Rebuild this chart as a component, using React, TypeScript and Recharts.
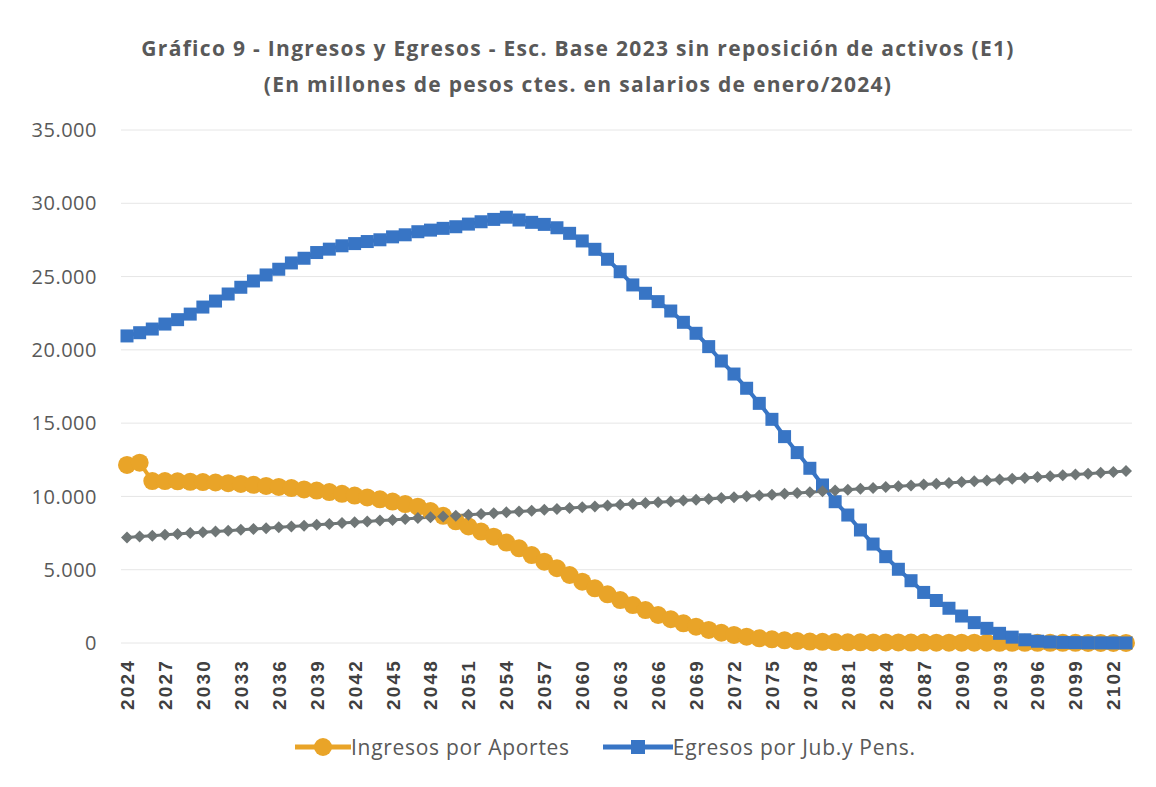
import { LineChart, Line, XAxis, YAxis, CartesianGrid } from "recharts";

const years = [
  2024, 2025, 2026, 2027, 2028, 2029, 2030, 2031, 2032, 2033,
  2034, 2035, 2036, 2037, 2038, 2039, 2040, 2041, 2042, 2043,
  2044, 2045, 2046, 2047, 2048, 2049, 2050, 2051, 2052, 2053,
  2054, 2055, 2056, 2057, 2058, 2059, 2060, 2061, 2062, 2063,
  2064, 2065, 2066, 2067, 2068, 2069, 2070, 2071, 2072, 2073,
  2074, 2075, 2076, 2077, 2078, 2079, 2080, 2081, 2082, 2083,
  2084, 2085, 2086, 2087, 2088, 2089, 2090, 2091, 2092, 2093,
  2094, 2095, 2096, 2097, 2098, 2099, 2100, 2101, 2102, 2103,
];

// Ingresos por Aportes
const ingresos = [
  12150, 12300, 11050, 11050, 11030, 11000, 10980, 10950, 10900, 10850,
  10790, 10720, 10650, 10570, 10480, 10400, 10300, 10180, 10060, 9930,
  9800, 9650, 9480, 9300, 9000, 8680, 8300, 7950, 7600, 7250,
  6850, 6460, 6000, 5550, 5100, 4640, 4180, 3730, 3320, 2930,
  2590, 2250, 1910, 1620, 1340, 1110, 890, 700, 550, 430,
  320, 250, 180, 130, 100, 80, 60, 50, 45, 40,
  40, 35, 30, 30, 25, 25, 20, 20, 20, 15,
  15, 15, 10, 10, 10, 10, 5, 5, 5, 5,
];

// Egresos por Jub.y Pens.
const egresos = [
  20950, 21170, 21420, 21760, 22060, 22440, 22920, 23330, 23810, 24270,
  24700, 25110, 25500, 25930, 26250, 26640, 26870, 27100, 27250, 27390,
  27510, 27710, 27850, 28060, 28170, 28290, 28400, 28580, 28740, 28900,
  29050, 28860, 28700, 28560, 28330, 27950, 27430, 26860, 26180, 25330,
  24430, 23860, 23290, 22650, 21880, 21130, 20220, 19240, 18350, 17380,
  16350, 15260, 14080, 12990, 11920, 10780, 9640, 8730, 7710, 6750,
  5890, 5030, 4250, 3450, 2900, 2370, 1840, 1390, 1000, 660,
  400, 220, 120, 70, 40, 25, 15, 10, 5, 3,
];

// third series (not in legend)
const tercera = [
  7200, 7260, 7320, 7380, 7440, 7500, 7550, 7610, 7660, 7720,
  7780, 7830, 7890, 7950, 8000, 8060, 8120, 8180, 8230, 8290,
  8350, 8400, 8460, 8520, 8580, 8630, 8690, 8750, 8800, 8860,
  8920, 8980, 9030, 9090, 9150, 9210, 9260, 9320, 9380, 9430,
  9490, 9550, 9610, 9660, 9720, 9780, 9830, 9890, 9950, 10010,
  10060, 10120, 10180, 10230, 10290, 10350, 10410, 10460, 10520, 10580,
  10640, 10690, 10750, 10810, 10860, 10920, 10980, 11040, 11090, 11150,
  11210, 11260, 11320, 11380, 11440, 11490, 11550, 11610, 11670, 11730,
];

const yTicks = [0, 5000, 10000, 15000, 20000, 25000, 30000, 35000];

const ORANGE = "#E9A428";
const BLUE = "#3875C5";
const GRAY = "#6F7676";
const TEXT = "#595959";

const data = years.map((year, i) => ({
  year,
  ingresos: ingresos[i],
  egresos: egresos[i],
  tercera: tercera[i],
}));

const fmt = (v: number) => String(v).replace(/\B(?=(\d{3})+(?!\d))/g, ".");

const CircleDot = (p: any) => (
  <circle key={`o-${p.index}`} cx={p.cx} cy={p.cy} r={9} fill={ORANGE} />
);
const SquareDot = (p: any) => (
  <rect key={`b-${p.index}`} x={p.cx - 6.5} y={p.cy - 6.5} width={13} height={13} fill={BLUE} />
);
const DiamondDot = (p: any) => (
  <path
    key={`g-${p.index}`}
    d={`M${p.cx},${p.cy - 6} L${p.cx + 6},${p.cy} L${p.cx},${p.cy + 6} L${p.cx - 6},${p.cy} Z`}
    fill={GRAY}
  />
);

const YearTick = ({ x, y, payload }: any) => {
  const bx = x + 7;
  return (
    <text
      x={bx}
      y={y}
      transform={`rotate(-90 ${bx} ${y})`}
      textAnchor="end"
      fill="#404040"
      fontFamily="Liberation Sans, Arial, sans-serif"
      fontWeight="bold"
      fontSize={19}
      letterSpacing={2.2}
    >
      {payload.value}
    </text>
  );
};

const legendItems = [
  { name: "Ingresos por Aportes", color: ORANGE, shape: "circle", w: 56 },
  { name: "Egresos por Jub.y Pens.", color: BLUE, shape: "square", w: 70 },
];

export default function App() {
  return (
    <div style={{ position: "relative", width: 1156, height: 787, background: "#fff" }}>
      <style>{"body{margin:0}"}</style>
      <div
        style={{
          position: "absolute",
          top: 30,
          left: 0,
          width: 1156,
          textAlign: "center",
          fontFamily: "Open Sans, sans-serif",
          fontWeight: 700,
          fontSize: 21,
          letterSpacing: 1.3,
          lineHeight: "36px",
          color: TEXT,
        }}
      >
        <div>Gráfico 9 - Ingresos y Egresos - Esc. Base 2023 sin reposición de activos (E1)</div>
        <div>(En millones de pesos ctes. en salarios de enero/2024)</div>
      </div>
      <LineChart
        width={1156}
        height={787}
        data={data}
        margin={{ top: 130, right: 24, bottom: 0, left: 0 }}
      >
        <CartesianGrid vertical={false} stroke="#e6e6e6" />
        <XAxis
          dataKey="year"
          interval={2}
          height={144}
          axisLine={false}
          tickLine={false}
          tickSize={0}
          tickMargin={16}
          padding={{ left: 6, right: 6 }}
          tick={<YearTick />}
        />
        <YAxis
          width={121}
          domain={[0, 35000]}
          ticks={yTicks}
          axisLine={false}
          tickLine={false}
          tickSize={0}
          tickMargin={24}
          tickFormatter={fmt}
          tick={{ fill: TEXT, fontSize: 20, fontFamily: "Open Sans, sans-serif", letterSpacing: 0.5 }}
        />
        <Line
          dataKey="ingresos"
          name="Ingresos por Aportes"
          stroke={ORANGE}
          strokeWidth={4}
          dot={CircleDot}
          activeDot={false}
          isAnimationActive={false}
        />
        <Line
          dataKey="egresos"
          name="Egresos por Jub.y Pens."
          stroke={BLUE}
          strokeWidth={4}
          dot={SquareDot}
          activeDot={false}
          isAnimationActive={false}
        />
        <Line
          dataKey="tercera"
          name="Serie 3"
          stroke={GRAY}
          strokeWidth={3}
          dot={DiamondDot}
          activeDot={false}
          legendType="none"
          isAnimationActive={false}
        />
      </LineChart>
      <div
        style={{
          position: "absolute",
          top: 733,
          left: 295,
          display: "flex",
          alignItems: "center",
          fontFamily: "Open Sans, sans-serif",
          fontSize: 21,
          letterSpacing: 0.7,
          color: TEXT,
        }}
      >
        {legendItems.map((it) => (
          <div key={it.name} style={{ display: "flex", alignItems: "center", marginRight: 33 }}>
            <svg width={it.w} height={24}>
              <line x1={0} y1={12} x2={it.w} y2={12} stroke={it.color} strokeWidth={5} />
              {it.shape === "circle" ? (
                <circle cx={it.w / 2} cy={12} r={9} fill={it.color} />
              ) : (
                <rect x={it.w / 2 - 7} y={5} width={14} height={14} fill={it.color} />
              )}
            </svg>
            <span>{it.name}</span>
          </div>
        ))}
      </div>
    </div>
  );
}
